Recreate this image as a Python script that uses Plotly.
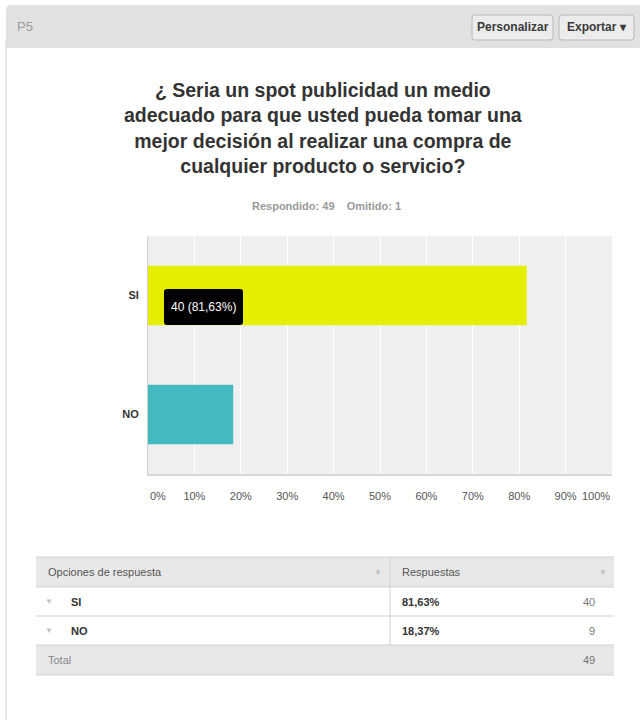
import plotly.graph_objects as go

# Survey question P5 results
categories = ["SI", "NO"]
counts = [40, 9]
omitted = 1
tick_values = [0, 10, 20, 30, 40, 50, 60, 70, 80, 90, 100]
tick_labels = [f"{v}%" for v in tick_values]
bar_colors = ["#e6ee00", "#43b9c2"]

total = sum(counts)
percents = [c / total * 100 for c in counts]


def fmt_pct(p):
    return f"{p:.2f}".replace(".", ",") + "%"


W, H = 640, 720


def px(x):
    return x / W


def py(y):
    return 1 - y / H


def rrect(x0, y0, x1, y1, r, corners=(1, 1, 1, 1)):
    """Rounded rectangle path in paper units from pixel corners (tl, tr, br, bl)."""
    tl, tr, br, bl = [r * c for c in corners]
    pts = [
        f"M {px(x0 + tl)},{py(y0)}",
        f"L {px(x1 - tr)},{py(y0)}",
        f"Q {px(x1)},{py(y0)} {px(x1)},{py(y0 + tr)}",
        f"L {px(x1)},{py(y1 - br)}",
        f"Q {px(x1)},{py(y1)} {px(x1 - br)},{py(y1)}",
        f"L {px(x0 + bl)},{py(y1)}",
        f"Q {px(x0)},{py(y1)} {px(x0)},{py(y1 - bl)}",
        f"L {px(x0)},{py(y0 + tl)}",
        f"Q {px(x0)},{py(y0)} {px(x0 + tl)},{py(y0)}",
        "Z",
    ]
    return " ".join(pts)


FONT = "Liberation Sans, Arial, sans-serif"

fig = go.Figure()
fig.add_trace(go.Bar(
    y=categories,
    x=percents,
    orientation="h",
    marker=dict(color=bar_colors, line=dict(width=0)),
    width=0.5,
    hoverinfo="skip",
))

shapes = []
annotations = []

# page frame and header band
shapes.append(dict(type="line", xref="paper", yref="paper",
                   x0=px(6), x1=px(6), y0=py(40), y1=py(720),
                   line=dict(color="#d0d0d0", width=1), layer="below"))
shapes.append(dict(type="path", xref="paper", yref="paper",
                   path=rrect(6, 5, 644, 48, 5, corners=(1, 0, 0, 0)),
                   fillcolor="#e1e1e1", line=dict(width=0), layer="below"))
annotations.append(dict(xref="paper", yref="paper", x=px(15), y=py(27),
                        xanchor="left", yanchor="middle", showarrow=False,
                        text="P5", font=dict(family=FONT, size=13, color="#9c9c9c")))

# header buttons
for (x0, x1, label) in [(472, 553, "<b>Personalizar</b>"), (559, 634, "<b>Exportar ▾</b>")]:
    shapes.append(dict(type="path", xref="paper", yref="paper",
                       path=rrect(x0, 15, x1, 40, 3),
                       fillcolor="#ececec", line=dict(color="#b8b8b8", width=1),
                       layer="below"))
    annotations.append(dict(xref="paper", yref="paper", x=px((x0 + x1) / 2), y=py(27.5),
                            xanchor="center", yanchor="middle", showarrow=False,
                            text=label, font=dict(family=FONT, size=12, color="#3a3a3a")))

# question title
title_lines = [
    "¿ Seria un spot publicidad un medio",
    "adecuado para que usted pueda tomar una",
    "mejor decisión al realizar una compra de",
    "cualquier producto o servicio?",
]
annotations.append(dict(xref="paper", yref="paper", x=px(323), y=py(128),
                        xanchor="center", yanchor="middle", showarrow=False,
                        text="<b>" + "<br>".join(title_lines) + "</b>",
                        font=dict(family=FONT, size=19.5, color="#333333")))
annotations.append(dict(xref="paper", yref="paper", x=px(326), y=py(206),
                        xanchor="center", yanchor="middle", showarrow=False,
                        text=f"<b>Respondido: {total}&nbsp;&nbsp;&nbsp;&nbsp;Omitido: {omitted}</b>",
                        font=dict(family=FONT, size=11, color="#9a9a9a")))

# tooltip on the first bar
shapes.append(dict(type="path", xref="paper", yref="paper",
                   path=rrect(164, 289, 243, 325, 3),
                   fillcolor="#000000", line=dict(width=0)))
annotations.append(dict(xref="paper", yref="paper", x=px(203.5), y=py(307.5),
                        xanchor="center", yanchor="middle", showarrow=False,
                        text=f"{counts[0]} ({fmt_pct(percents[0])})",
                        font=dict(family=FONT, size=12, color="#ffffff")))

# end tick labels sit inside the plot width
for v, lab, anchor in [(tick_values[0], tick_labels[0], "left"),
                       (tick_values[-1], tick_labels[-1], "right")]:
    annotations.append(dict(xref="x", yref="paper", x=v, y=py(496),
                            xanchor=anchor, yanchor="middle", showarrow=False,
                            text=lab, font=dict(family=FONT, size=11, color="#555555")))
axis_text = [""] + tick_labels[1:-1] + [""]

# results table
tx0, tx1, tdiv = 36, 614, 390
row_y = [557, 587, 616, 645, 675]
shapes.append(dict(type="rect", xref="paper", yref="paper",
                   x0=px(tx0), x1=px(tx1), y0=py(row_y[0]), y1=py(row_y[1]),
                   fillcolor="#e8e8e8", line=dict(width=0), layer="below"))
shapes.append(dict(type="rect", xref="paper", yref="paper",
                   x0=px(tx0), x1=px(tx1), y0=py(row_y[3]), y1=py(row_y[4]),
                   fillcolor="#e8e8e8", line=dict(width=0), layer="below"))
for yy in row_y:
    shapes.append(dict(type="line", xref="paper", yref="paper",
                       x0=px(tx0), x1=px(tx1), y0=py(yy), y1=py(yy),
                       line=dict(color="#cfcfcf", width=1)))
shapes.append(dict(type="line", xref="paper", yref="paper",
                   x0=px(tdiv), x1=px(tdiv), y0=py(row_y[0]), y1=py(row_y[3]),
                   line=dict(color="#cfcfcf", width=1)))


def cell(x, y, text, anchor="left", color="#444444", size=11, bold=False):
    t = f"<b>{text}</b>" if bold else text
    annotations.append(dict(xref="paper", yref="paper", x=px(x), y=py(y),
                            xanchor=anchor, yanchor="middle", showarrow=False,
                            text=t, font=dict(family=FONT, size=size, color=color)))


hy = (row_y[0] + row_y[1]) / 2
cell(46, hy, "Opciones de respuesta", color="#555555")
cell(378, hy, "▼", anchor="center", color="#c0c0c0", size=8)
cell(400, hy, "Respuestas", color="#555555")
cell(603, hy, "▼", anchor="center", color="#c0c0c0", size=8)
for i, (cat, cnt, pct) in enumerate(zip(categories, counts, percents)):
    yy = (row_y[i + 1] + row_y[i + 2]) / 2
    cell(49, yy, "▼", anchor="center", color="#c0c0c0", size=8)
    cell(69, yy, cat, color="#333333", bold=True)
    cell(400, yy, fmt_pct(pct), color="#333333", bold=True)
    cell(597, yy, str(cnt), anchor="right", color="#777777")
ty = (row_y[3] + row_y[4]) / 2
cell(46, ty, "Total", color="#888888")
cell(597, ty, str(total), anchor="right", color="#777777")

fig.update_layout(
    width=W, height=H,
    margin=dict(l=0, r=0, t=0, b=0),
    paper_bgcolor="#ffffff",
    plot_bgcolor="#efefef",
    showlegend=False,
    bargap=0.5,
    font=dict(family=FONT),
    shapes=shapes,
    annotations=annotations,
    xaxis=dict(
        domain=[px(148), px(612)],
        range=[0, 100],
        tickvals=tick_values,
        ticktext=axis_text,
        showgrid=True, gridcolor="#ffffff", gridwidth=1,
        zeroline=False,
        showline=True, linecolor="#d8d8d8", linewidth=2,
        ticks="", ticklabelstandoff=11,
        tickfont=dict(family=FONT, size=11, color="#555555"),
        fixedrange=True,
    ),
    yaxis=dict(
        domain=[py(474), py(236)],
        categoryorder="array", categoryarray=categories[::-1],
        showgrid=False, zeroline=False,
        showline=True, linecolor="#d0d0d0", linewidth=1,
        ticks="", ticklabelstandoff=6,
        tickfont=dict(family=FONT, size=11, color="#333333", weight="bold"),
        fixedrange=True,
    ),
)

fig.write_html("out.html", config={"displayModeBar": False})
